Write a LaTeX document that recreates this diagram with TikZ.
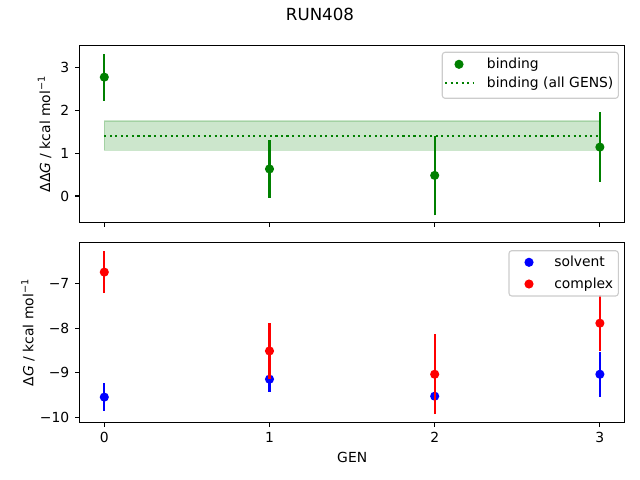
\documentclass[tikz,border=0pt]{standalone}
\usepackage{fontspec}
\setmainfont{DejaVu Sans}
\definecolor{mplgreen}{HTML}{008000}
\definecolor{mplblue}{HTML}{0000FF}
\definecolor{mplred}{HTML}{FF0000}
\definecolor{legendedge}{HTML}{CCCCCC}
\tikzset{
    frame/.style={line width=0.8pt, black},
    tick/.style={line width=0.8pt, black},
    errbar/.style={line width=1.5pt},
    dot/.style={circle, inner sep=0pt, minimum size=6.6pt},
    ticklabel/.style={inner sep=0pt},
    dotline/.style={mplgreen, line width=1.5pt, dash pattern=on 1.5pt off 2.475pt},
    legendbox/.style={draw=legendedge, line width=0.8pt, fill=white, fill opacity=0.8, rounded corners=2pt},
}
\begin{document}
\begin{tikzpicture}[x=0.72pt, y=-0.72pt]
    \useasboundingbox (0,0) rectangle (640,480);
    \node
        [anchor=base, font=\large] (title) at (320,20.7) {RUN408};
    \begin{scope}[shift={(104.3,196)}, x=118.94pt, y=30.89pt]
        \filldraw
            [fill=mplgreen, draw=mplgreen, opacity=0.2, line width=1pt] (0,1.065) rectangle (3,1.748);
        \draw
            [dotline] (0,1.40) -- (3,1.40);
        \foreach \g/\v/\e in {0/2.77/0.55, 1/0.63/0.67, 2/0.48/0.93, 3/1.14/0.81} {
            \draw
                [errbar, mplgreen] (\g,\v-\e) -- (\g,\v+\e);
            \node[dot, fill=mplgreen] (bind\g) at (\g,\v) {};
        }
        \draw
            [frame] (-0.15,-0.6175) rectangle (3.15,3.5075);
        \foreach \t in {0,...,3} {
            \draw
                [tick] (\t,-0.6175) -- ++(0pt,-3.5pt);
            \draw
                [tick] (-0.15,\t) -- ++(-3.5pt,0pt) node[ticklabel, anchor=east, xshift=-3.5pt] (ytop\t) {\t};
        }
    \end{scope}
    \begin{scope}[shift={(104.3,-30.3)}, x=118.94pt, y=32.256pt]
        \foreach \g/\v/\e in {0/-9.54/0.31, 1/-9.14/0.28, 2/-9.52/0.08, 3/-9.03/0.50} {
            \draw
                [errbar, mplblue] (\g,\v-\e) -- (\g,\v+\e);
            \node[dot, fill=mplblue] (solv\g) at (\g,\v) {};
        }
        \foreach \g/\v/\e in {0/-6.75/0.47, 1/-8.51/0.62, 2/-9.03/0.89, 3/-7.89/0.63} {
            \draw
                [errbar, mplred] (\g,\v-\e) -- (\g,\v+\e);
            \node[dot, fill=mplred] (cplx\g) at (\g,\v) {};
        }
        \draw
            [frame] (-0.15,-10.102) rectangle (3.15,-6.098);
        \foreach \t in {0,...,3} {
            \draw
                [tick] (\t,-10.102) -- ++(0pt,-3.5pt) node[ticklabel, anchor=north, yshift=-3.5pt] (xbot\t) {\t};
        }
        \foreach \t in {7,...,10} {
            \draw
                [tick] (-0.15,-\t) -- ++(-3.5pt,0pt) node[ticklabel, anchor=east, xshift=-3.5pt] (ybot\t) {−\t};
        }
    \end{scope}
    \node
        [rotate=90, anchor=base] (ylabtop) at (50,134) {ΔΔ\textit{G} / kcal mol\textsuperscript{−1}};
    \node
        [rotate=90, anchor=base] (ylabbot) at (33.3,332.5) {Δ\textit{G} / kcal mol\textsuperscript{−1}};
    \node
        [anchor=base] (xlab) at (352.2,462.3) {GEN};
    \draw
        [legendbox] (442.3,52.3) rectangle (618.3,98.3);
    \node[dot, fill=mplgreen] (legbind) at (459,64.3) {};
    \node
        [anchor=base west, inner sep=0pt] (txtbind) at (486.7,68.6) {binding};
    \draw
        [dotline] (445,83.3) -- (473,83.3);
    \node
        [anchor=base west, inner sep=0pt] (txtall) at (486.7,87.6) {binding (all GENS)};
    \draw
        [legendbox] (509,250.7) rectangle (618.3,296);
    \node[dot, fill=mplblue] (legsolv) at (529,262.3) {};
    \node
        [anchor=base west, inner sep=0pt] (txtsolv) at (554,266.6) {solvent};
    \node[dot, fill=mplred] (legcplx) at (529,284) {};
    \node
        [anchor=base west, inner sep=0pt] (txtcplx) at (554,288.3) {complex};
\end{tikzpicture}
\end{document}
